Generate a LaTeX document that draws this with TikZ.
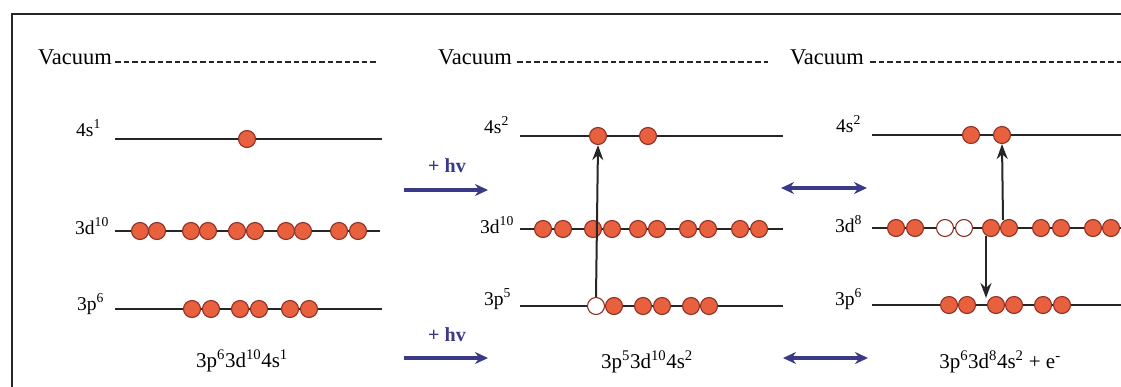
\documentclass[tikz,border=0pt]{standalone}
\usepackage{fontspec}
\setmainfont{Liberation Serif}
\usetikzlibrary{arrows.meta}
\definecolor{eorange}{HTML}{E8603E}
\definecolor{eedge}{HTML}{8E3226}
\definecolor{harrow}{HTML}{3A3A86}
\newcommand\sps[1]{\textsuperscript{#1}}
\tikzset{
 elec/.style={circle,draw=eedge,fill=eorange,line width=1.1pt,minimum size=17pt,inner sep=0pt},
 hole/.style={circle,draw=eedge,fill=white,line width=1.1pt,minimum size=17pt,inner sep=0pt},
 level/.style={line width=1.8pt, draw=black!85},
 vac/.style={line width=2pt, dash pattern=on 5.5pt off 3pt, draw=black!85},
 vaclbl/.style={anchor=base west, inner sep=0pt, font=\fontsize{22.5}{26}\selectfont},
 lvllbl/.style={anchor=base west, inner sep=0pt, font=\fontsize{19.5}{23}\selectfont},
 cfg/.style={anchor=base, inner sep=0pt, font=\fontsize{21}{25}\selectfont},
 hv/.style={anchor=base, inner sep=0pt, text=harrow, font=\bfseries\fontsize{20}{24}\selectfont},
 bluearr/.style={line width=3.2pt, draw=harrow, -{Stealth[length=13pt,width=12pt]}},
 blueboth/.style={line width=3.2pt, draw=harrow, {Stealth[length=13pt,width=12pt]}-{Stealth[length=13pt,width=12pt]}},
 trans/.style={line width=2pt, draw=black!85, -{Stealth[length=15pt,width=11pt]}},
 frame/.style={line width=2.2pt, draw=black!85},
}
\begin{document}
\begin{tikzpicture}[x=1pt,y=-1pt]
\useasboundingbox (0,0) rectangle (1121,386);
\fill[white] (0,0) rectangle (1121,386);
% frame
\coordinate (ftl) at (12,14);
\coordinate (ftr) at (1125,14);
\coordinate (fbl) at (12,390);
\draw[frame] (fbl) -- (ftl) -- (ftr);

% ---------- Panel 1 ----------
\node[vaclbl] (v1) at (38,64) {Vacuum};
\coordinate (v1a) at (115,62); \coordinate (v1b) at (378,62);
\draw[vac] (v1a) -- (v1b);
\node[lvllbl] (l1s) at (76,136) {4s\sps{1}};
\coordinate (a1s) at (115,139); \coordinate (b1s) at (382,139);
\draw[level] (a1s) -- (b1s);
\node[lvllbl] (l1d) at (75,234) {3d\sps{10}};
\coordinate (a1d) at (115,231); \coordinate (b1d) at (380,231);
\draw[level] (a1d) -- (b1d);
\node[lvllbl] (l1p) at (77,310) {3p\sps{6}};
\coordinate (a1p) at (115,309); \coordinate (b1p) at (382,309);
\draw[level] (a1p) -- (b1p);
\node[elec] (p1s1) at (247,139) {};
\foreach \x [count=\i] in {140,157,191,208,237,255,286,303,339,358}
  \node[elec] (p1d\i) at (\x,231) {};
\foreach \x [count=\i] in {192,211,240,259,290,309}
  \node[elec] (p1p\i) at (\x,309) {};
\node[cfg] (c1) at (242,367) {3p\sps{6}3d\sps{10}4s\sps{1}};

% ---------- arrows 1 -> 2 ----------
\node[hv] (hv1) at (447,172) {+ hv};
\coordinate (h1a) at (404,190); \coordinate (h1b) at (488,190);
\draw[bluearr] (h1a) -- (h1b);
\node[hv] (hv2) at (447,341) {+ hv};
\coordinate (h2a) at (404,358); \coordinate (h2b) at (488,358);
\draw[bluearr] (h2a) -- (h2b);

% ---------- Panel 2 ----------
\node[vaclbl] (v2) at (438,64) {Vacuum};
\coordinate (v2a) at (517,62); \coordinate (v2b) at (768,62);
\draw[vac] (v2a) -- (v2b);
\node[lvllbl] (l2s) at (484,133) {4s\sps{2}};
\coordinate (a2s) at (520,136); \coordinate (b2s) at (783,136);
\draw[level] (a2s) -- (b2s);
\node[lvllbl] (l2d) at (480,233) {3d\sps{10}};
\coordinate (a2d) at (520,229); \coordinate (b2d) at (783,229);
\draw[level] (a2d) -- (b2d);
\node[lvllbl] (l2p) at (484,305) {3p\sps{5}};
\coordinate (a2p) at (520,306); \coordinate (b2p) at (783,306);
\draw[level] (a2p) -- (b2p);
\node[elec] (p2s1) at (598,136) {};
\node[elec] (p2s2) at (648,136) {};
\foreach \x [count=\i] in {543,563,593,612,638,657,688,708,740,759}
  \node[elec] (p2d\i) at (\x,229) {};
\node[hole] (p2h) at (596,306) {};
\foreach \x [count=\i] in {614,643,662,691,709}
  \node[elec] (p2p\i) at (\x,306) {};
\draw[trans] (p2h.north) -- (p2s1.south);
\node[cfg] (c2) at (647,368) {3p\sps{5}3d\sps{10}4s\sps{2}};

% ---------- arrows 2 <-> 3 ----------
\coordinate (d1a) at (781,188); \coordinate (d1b) at (867,188);
\draw[blueboth] (d1a) -- (d1b);
\coordinate (d2a) at (783,358); \coordinate (d2b) at (868,358);
\draw[blueboth] (d2a) -- (d2b);

% ---------- Panel 3 ----------
\node[vaclbl] (v3) at (790,64) {Vacuum};
\coordinate (v3a) at (870,62); \coordinate (v3b) at (1121,62);
\draw[vac] (v3a) -- (v3b);
\node[lvllbl] (l3s) at (836,132) {4s\sps{2}};
\coordinate (a3s) at (872,135); \coordinate (b3s) at (1121,135);
\draw[level] (a3s) -- (b3s);
\node[lvllbl] (l3d) at (835,232) {3d\sps{8}};
\coordinate (a3d) at (872,228); \coordinate (b3d) at (1121,228);
\draw[level] (a3d) -- (b3d);
\node[lvllbl] (l3p) at (835,305) {3p\sps{6}};
\coordinate (a3p) at (872,305); \coordinate (b3p) at (1121,305);
\draw[level] (a3p) -- (b3p);
\node[elec] (p3s1) at (971,135) {};
\node[elec] (p3s2) at (1002,135) {};
\node[elec] (p3d1) at (896,228) {};
\node[elec] (p3d2) at (915,228) {};
\node[hole] (p3h1) at (945,228) {};
\node[hole] (p3h2) at (964,228) {};
\foreach \x [count=\i from 3] in {991,1009,1041,1061,1093,1111}
  \node[elec] (p3d\i) at (\x,228) {};
\foreach \x [count=\i] in {949,967,996,1014,1043,1062}
  \node[elec] (p3p\i) at (\x,305) {};
% Auger transitions
\coordinate (up3) at (1003,220);
\draw[trans] (up3) -- (p3s2.south);
\coordinate (dn3a) at (986,236);
\coordinate (dn3b) at (986,298);
\draw[trans] (dn3a) -- (dn3b);
\node[cfg] (c3) at (1000,368) {3p\sps{6}3d\sps{8}4s\sps{2} + e\sps{-}};
\end{tikzpicture}
\end{document}
